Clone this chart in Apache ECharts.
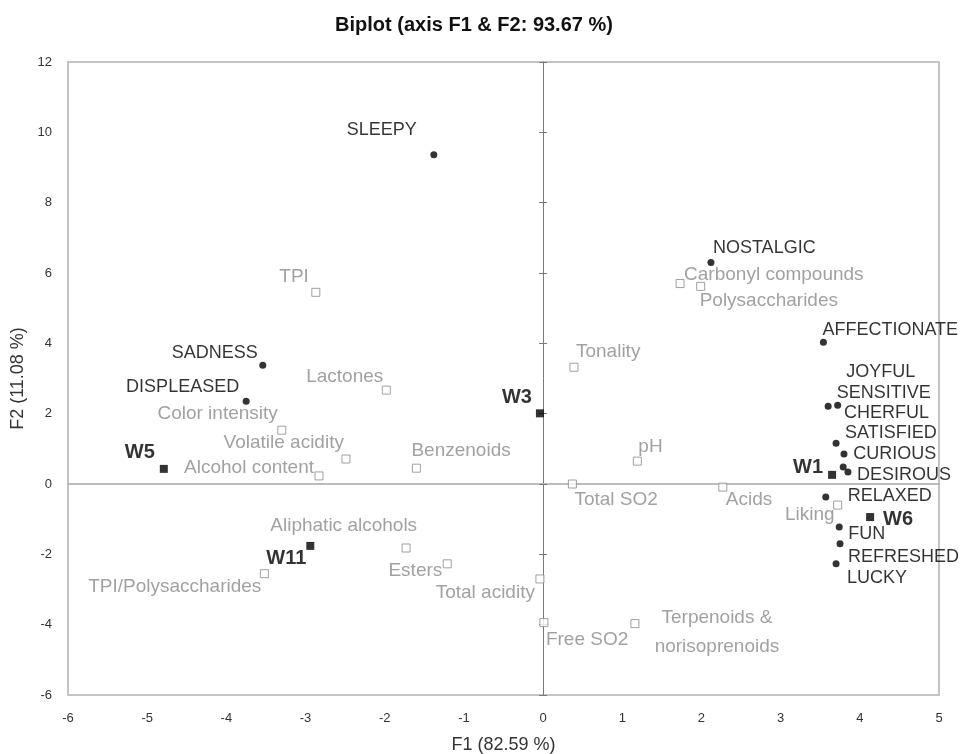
<!DOCTYPE html>
<html><head><meta charset="utf-8">
<script src="https://cdn.jsdelivr.net/npm/echarts@6/dist/echarts.min.js"></script>
<style>html,body{margin:0;padding:0;background:#fff}#c{width:963px;height:754px}</style>
</head><body><div id="c"></div>
<script>
// ---- Data ----
const emotionNames = ['SLEEPY','NOSTALGIC','AFFECTIONATE','SADNESS','DISPLEASED','JOYFUL','SENSITIVE','CHERFUL','SATISFIED','CURIOUS','DESIROUS','RELAXED','FUN','REFRESHED','LUCKY'];
const emotionF1 = [-1.38, 2.12, 3.54, -3.54, -3.75, 3.60, 3.72, 3.70, 3.80, 3.79, 3.85, 3.57, 3.74, 3.75, 3.70];
const emotionF2 = [9.36, 6.30, 4.03, 3.38, 2.35, 2.21, 2.24, 1.16, 0.85, 0.48, 0.34, -0.37, -1.22, -1.70, -2.27];

const wineNames = ['W1','W3','W5','W6','W11'];
const wineF1 = [3.65, -0.04, -4.79, 4.13, -2.94];
const wineF2 = [0.26, 2.01, 0.43, -0.94, -1.76];

const variableNames = ['TPI','Lactones','Color intensity','Volatile acidity','Alcohol content','Benzenoids','Aliphatic alcohols','Esters','TPI/Polysaccharides','Total acidity','Free SO2','Terpenoids &\nnorisoprenoids','Carbonyl compounds','Polysaccharides','Tonality','pH','Total SO2','Acids','Liking'];
const variableF1 = [-2.87, -1.98, -3.30, -2.49, -2.83, -1.60, -1.73, -1.21, -3.52, -0.04, 0.01, 1.16, 1.73, 1.99, 0.39, 1.19, 0.37, 2.27, 3.72];
const variableF2 = [5.45, 2.67, 1.53, 0.71, 0.23, 0.45, -1.82, -2.27, -2.55, -2.70, -3.94, -3.97, 5.70, 5.62, 3.32, 0.65, 0.00, -0.09, -0.60];

const titleText = 'Biplot (axis F1 & F2: 93.67 %)';
const xAxisTitle = 'F1 (82.59 %)';
const yAxisTitle = 'F2 (11.08 %)';

// ---- Label placement (style only): [align, dx, dy] relative to the marker centre ----
const labelPlace = {
  'SLEEPY':['right',-17,-25], 'NOSTALGIC':['left',2,-14], 'AFFECTIONATE':['left',-1,-12],
  'SADNESS':['right',-5,-12], 'DISPLEASED':['right',-7,-14], 'JOYFUL':['left',18,-34],
  'SENSITIVE':['left',-1,-12], 'CHERFUL':['left',8,-30], 'SATISFIED':['left',1,-21],
  'CURIOUS':['left',10,-13], 'DESIROUS':['left',9,3], 'RELAXED':['left',22,-1],
  'FUN':['left',9,7], 'REFRESHED':['left',8,13], 'LUCKY':['left',11,14],
  'W1':['right',-9,-7], 'W3':['right',-8,-16], 'W5':['right',-9,-16], 'W6':['left',13,2], 'W11':['right',-4,13],
  'TPI':['right',-7,-16], 'Lactones':['right',-3,-13], 'Color intensity':['right',-4,-16],
  'Volatile acidity':['right',-2,-16], 'Alcohol content':['right',-5,-8], 'Benzenoids':['left',-5,-17],
  'Aliphatic alcohols':['right',11,-22], 'Esters':['right',-5,7], 'TPI/Polysaccharides':['right',-3,13],
  'Total acidity':['right',-5,14], 'Free SO2':['left',2,17], 'Terpenoids &\nnorisoprenoids':['center',82,9],
  'Carbonyl compounds':['left',4,-9], 'Polysaccharides':['left',-1,14], 'Tonality':['left',2,-15],
  'pH':['left',1,-14], 'Total SO2':['left',2,16], 'Acids':['left',3,13], 'Liking':['right',-3,10]
};

const FONT = '"Liberation Sans", Arial, sans-serif';

function build(names, xs, ys) {
  return names.map((n, i) => {
    const p = labelPlace[n] || ['left', 6, 0];
    return { name: n, value: [xs[i], ys[i]],
      label: { align: p[0], offset: [p[1], p[2]] } };
  });
}

const chart = echarts.init(document.getElementById('c'), null, { renderer: 'canvas' });

const hiddenAxisCommon = { axisLabel: { show: false }, splitLine: { show: false } };

chart.setOption({
  animation: false,
  backgroundColor: '#fff',
  grid: { left: 68, right: 24, top: 62, bottom: 59, show: true, borderColor: '#c4c4c4', borderWidth: 2,
    containLabel: false, outerBoundsMode: 'none' },
  graphic: [{
    type: 'text', x: 474, y: 25,
    style: { text: titleText, x: 0, y: 0, textAlign: 'center', textVerticalAlign: 'middle',
      font: 'bold 20px ' + FONT, fill: '#111' }
  }],
  xAxis: [
    { type: 'value', min: -6, max: 5, interval: 1, position: 'bottom',
      axisLine: { show: false, onZero: false }, axisTick: { show: false }, splitLine: { show: false },
      axisLabel: { color: '#333', fontSize: 13, fontFamily: FONT, margin: 17 },
      name: xAxisTitle, nameLocation: 'middle', nameGap: 41,
      nameTextStyle: { color: '#333', fontSize: 18, fontFamily: FONT } },
    Object.assign({ type: 'value', min: -6, max: 5, interval: 1, position: 'bottom',
      axisLine: { show: true, onZero: true, onZeroAxisIndex: 0, lineStyle: { color: '#a8a8a8', width: 1.5 } },
      axisTick: { show: false } }, hiddenAxisCommon)
  ],
  yAxis: [
    { type: 'value', min: -6, max: 12, interval: 2, position: 'left',
      axisLine: { show: false, onZero: false }, axisTick: { show: false }, splitLine: { show: false },
      axisLabel: { color: '#333', fontSize: 13, fontFamily: FONT, margin: 16 },
      name: yAxisTitle, nameLocation: 'middle', nameGap: 39,
      nameTextStyle: { color: '#333', fontSize: 18, fontFamily: FONT } },
    Object.assign({ type: 'value', min: -6, max: 12, interval: 2, position: 'left',
      axisLine: { show: true, onZero: true, onZeroAxisIndex: 0, lineStyle: { color: '#7a7a7a', width: 1 } },
      axisTick: { show: true, length: 4, lineStyle: { color: '#7a7a7a' } } }, hiddenAxisCommon),
    Object.assign({ type: 'value', min: -6, max: 12, interval: 2, position: 'right',
      axisLine: { show: false, onZero: true, onZeroAxisIndex: 0 },
      axisTick: { show: true, length: 4, lineStyle: { color: '#7a7a7a' } } }, hiddenAxisCommon)
  ],
  series: [
    { name: 'Variables', type: 'scatter', xAxisIndex: 0, yAxisIndex: 0,
      symbol: 'rect', symbolSize: 8,
      itemStyle: { color: '#fff', borderColor: '#8a8a8a', borderWidth: 1 },
      label: { show: true, position: 'inside', formatter: '{b}', verticalAlign: 'middle',
        color: '#898989', fontSize: 19, fontFamily: FONT, lineHeight: 29 },
      data: build(variableNames, variableF1, variableF2) },
    { name: 'Emotions', type: 'scatter', xAxisIndex: 0, yAxisIndex: 0,
      symbol: 'circle', symbolSize: 7,
      itemStyle: { color: '#000' },
      label: { show: true, position: 'inside', formatter: '{b}', verticalAlign: 'middle',
        color: '#000', fontSize: 18, fontFamily: FONT },
      data: build(emotionNames, emotionF1, emotionF2) },
    { name: 'Wines', type: 'scatter', xAxisIndex: 0, yAxisIndex: 0,
      symbol: 'rect', symbolSize: 8,
      itemStyle: { color: '#000' },
      label: { show: true, position: 'inside', formatter: '{b}', verticalAlign: 'middle',
        color: '#000', fontSize: 20, fontWeight: 'bold', fontFamily: FONT },
      data: build(wineNames, wineF1, wineF2) }
  ]
});
</script>
</body></html>
